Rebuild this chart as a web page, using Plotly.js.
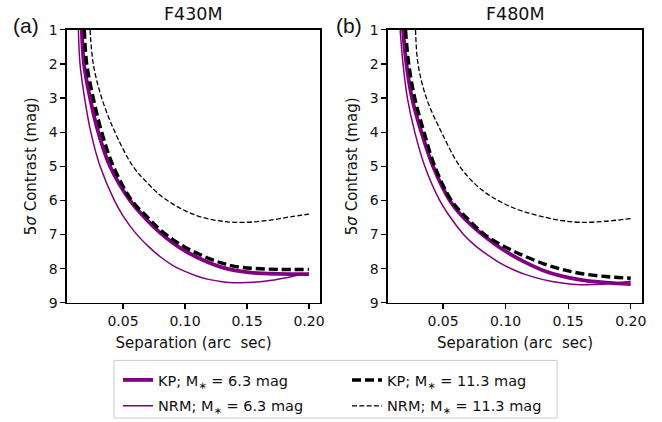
<!DOCTYPE html>
<html>
<head>
<meta charset="utf-8">
<script src="https://cdn.plot.ly/plotly-3.0.1.min.js"></script>
<style>html,body{margin:0;padding:0;background:#fff;}#chart{width:662px;height:422px;}</style>
</head>
<body>
<div id="chart"></div>
<script>
// ---- Panel (a) F430M ----
const a_kp6_x   = [0.0167, 0.0185, 0.0234, 0.030, 0.0395, 0.0556, 0.070, 0.080, 0.090, 0.100, 0.110, 0.120, 0.130, 0.140, 0.155, 0.175, 0.200];
const a_kp6_y   = [1, 2, 3, 4, 5, 6, 6.60, 6.95, 7.24, 7.48, 7.67, 7.83, 7.96, 8.05, 8.12, 8.15, 8.16];
const a_nrm6_x  = [0.0140, 0.0153, 0.019, 0.024, 0.0315, 0.043, 0.050, 0.060, 0.070, 0.080, 0.090, 0.100, 0.110, 0.120, 0.130, 0.140, 0.155, 0.170, 0.185, 0.200];
const a_nrm6_y  = [1, 2, 3, 4, 5, 6, 6.45, 6.95, 7.33, 7.65, 7.90, 8.08, 8.22, 8.32, 8.38, 8.41, 8.40, 8.34, 8.24, 8.13];
const a_kp11_x  = [0.0188, 0.0207, 0.026, 0.0328, 0.0422, 0.057, 0.070, 0.080, 0.090, 0.100, 0.110, 0.120, 0.130, 0.140, 0.155, 0.175, 0.200];
const a_kp11_y  = [1, 2, 3, 4, 5, 6, 6.50, 6.86, 7.14, 7.37, 7.55, 7.71, 7.84, 7.93, 7.99, 8.02, 8.02];
const a_nrm11_x = [0.0234, 0.026, 0.0328, 0.0435, 0.058, 0.070, 0.080, 0.090, 0.100, 0.110, 0.120, 0.130, 0.140, 0.155, 0.170, 0.185, 0.200];
const a_nrm11_y = [1, 2, 3, 4, 5, 5.50, 5.85, 6.10, 6.30, 6.45, 6.55, 6.61, 6.64, 6.63, 6.57, 6.48, 6.40];

// ---- Panel (b) F480M ----
const b_kp6_x   = [0.0180, 0.0207, 0.0252, 0.0327, 0.042, 0.0554, 0.065, 0.075, 0.085, 0.095, 0.105, 0.115, 0.130, 0.145, 0.160, 0.180, 0.200];
const b_kp6_y   = [1, 2, 3, 4, 5, 6, 6.45, 6.80, 7.10, 7.37, 7.60, 7.80, 8.05, 8.22, 8.33, 8.41, 8.45];
const b_nrm6_x  = [0.0157, 0.0180, 0.0215, 0.0274, 0.0354, 0.0473, 0.055, 0.066, 0.075, 0.085, 0.095, 0.105, 0.115, 0.130, 0.145, 0.160, 0.180, 0.200];
const b_nrm6_y  = [1, 2, 3, 4, 5, 6, 6.45, 6.98, 7.30, 7.58, 7.82, 8.01, 8.16, 8.32, 8.42, 8.47, 8.45, 8.37];
const b_kp11_x  = [0.0200, 0.0226, 0.0274, 0.0348, 0.0434, 0.0567, 0.070, 0.0833, 0.095, 0.105, 0.115, 0.130, 0.145, 0.160, 0.180, 0.200];
const b_kp11_y  = [1, 2, 3, 4, 5, 6, 6.55, 7.0, 7.27, 7.46, 7.63, 7.85, 8.02, 8.14, 8.23, 8.28];
const b_nrm11_x = [0.0280, 0.0300, 0.0367, 0.0487, 0.0633, 0.075, 0.085, 0.095, 0.105, 0.115, 0.130, 0.145, 0.160, 0.180, 0.200];
const b_nrm11_y = [1, 2, 3, 4, 5, 5.50, 5.80, 6.02, 6.20, 6.33, 6.48, 6.59, 6.64, 6.61, 6.53];

const panelTitles = ['F430M', 'F480M'];
const panelLabels = ['(a)', '(b)'];
const seriesNames = ['KP; M<sub>∗</sub> = 6.3 mag', 'NRM; M<sub>∗</sub> = 6.3 mag',
                     'KP; M<sub>∗</sub> = 11.3 mag', 'NRM; M<sub>∗</sub> = 11.3 mag'];
const yTicks = [1, 2, 3, 4, 5, 6, 7, 8, 9];
const xTicks = [0.05, 0.10, 0.15, 0.20];
const xTickText = ['0.05', '0.10', '0.15', '0.20'];

const styles = [
  {color: '#800080', width: 3.8, dash: 'solid', legend: 'legend'},
  {color: '#800080', width: 1.5, dash: 'solid', legend: 'legend'},
  {color: '#000000', width: 3.4, dash: '9px,4px', legend: 'legend2'},
  {color: '#000000', width: 1.3, dash: '5px,2.3px', legend: 'legend2'}
];

const panels = [
  {xs: [a_kp6_x, a_nrm6_x, a_kp11_x, a_nrm11_x], ys: [a_kp6_y, a_nrm6_y, a_kp11_y, a_nrm11_y], xa: 'x', ya: 'y'},
  {xs: [b_kp6_x, b_nrm6_x, b_kp11_x, b_nrm11_x], ys: [b_kp6_y, b_nrm6_y, b_kp11_y, b_nrm11_y], xa: 'x2', ya: 'y2'}
];

const traces = [];
panels.forEach((p, pi) => {
  for (let i = 0; i < 4; i++) {
    traces.push({
      type: 'scatter', mode: 'lines',
      x: p.xs[i], y: p.ys[i], xaxis: p.xa, yaxis: p.ya,
      name: seriesNames[i],
      legend: styles[i].legend,
      legendgroup: 'g' + i,
      showlegend: pi === 0,
      line: {color: styles[i].color, width: styles[i].width, dash: styles[i].dash, shape: 'spline', smoothing: 1},
      hoverinfo: 'skip'
    });
  }
});

const FONT = 'DejaVu Sans, sans-serif';
function xAxis(domain, range) {
  return {
    domain: domain, range: range, tickvals: xTicks, ticktext: xTickText,
    showgrid: false, zeroline: false, showline: true, mirror: true,
    linecolor: '#000', linewidth: 1.6, ticks: 'outside', ticklen: 5, tickwidth: 1.2, tickcolor: '#000',
    tickfont: {family: FONT, size: 14, color: '#111'},
    title: {text: 'Separation (arc\u00a0 sec)', font: {family: FONT, size: 15, color: '#111'}, standoff: 9}
  };
}
function yAxis(domain, anchor) {
  return {
    domain: domain, range: [9, 1], tickvals: yTicks, anchor: anchor,
    showgrid: false, zeroline: false, showline: true, mirror: true,
    linecolor: '#000', linewidth: 1.6, ticks: 'outside', ticklen: 5, tickwidth: 1.2, tickcolor: '#000',
    tickfont: {family: FONT, size: 14, color: '#111'},
    title: {text: '5<i>σ</i> Contrast (mag)', font: {family: FONT, size: 15, color: '#111'}, standoff: 8}
  };
}

const W = 662, H = 422;
const px = v => v / W, py = v => 1 - v / H;
const dA = [px(67), px(320)], dB = [px(388), px(642)];
const dY = [py(305), py(30)];

const layout = {
  width: W, height: H,
  margin: {l: 0, r: 0, t: 0, b: 0},
  paper_bgcolor: '#fff', plot_bgcolor: '#fff',
  font: {family: FONT, color: '#111'},
  showlegend: true,
  xaxis: Object.assign(xAxis(dA, [0.0048, 0.2089]), {anchor: 'y'}),
  yaxis: yAxis(dY, 'x'),
  xaxis2: Object.assign(xAxis(dB, [0.0060, 0.2090]), {anchor: 'y2'}),
  yaxis2: yAxis(dY, 'x2'),
  legend: {x: px(118), y: py(367), xanchor: 'left', yanchor: 'top', bgcolor: 'rgba(0,0,0,0)', borderwidth: 0,
           itemwidth: 30, traceorder: 'grouped', tracegroupgap: 4, font: {family: FONT, size: 14.5, color: '#111'}},
  legend2: {x: px(347), y: py(367), xanchor: 'left', yanchor: 'top', bgcolor: 'rgba(0,0,0,0)', borderwidth: 0,
           itemwidth: 30, traceorder: 'grouped', tracegroupgap: 4, font: {family: FONT, size: 14.5, color: '#111'}},
  shapes: [{type: 'rect', xref: 'paper', yref: 'paper', x0: px(114), x1: px(557), y0: py(421), y1: py(363),
            line: {color: '#cccccc', width: 1}, fillcolor: 'rgba(255,255,255,0.8)', layer: 'below'}],
  annotations: [
    {text: panelTitles[0], xref: 'paper', yref: 'paper', x: (dA[0] + dA[1]) / 2, y: py(14), xanchor: 'center', yanchor: 'middle', showarrow: false, font: {family: FONT, size: 17.5, color: '#111'}},
    {text: panelTitles[1], xref: 'paper', yref: 'paper', x: (dB[0] + dB[1]) / 2, y: py(14), xanchor: 'center', yanchor: 'middle', showarrow: false, font: {family: FONT, size: 17.5, color: '#111'}},
    {text: panelLabels[0], xref: 'paper', yref: 'paper', x: px(26), y: py(26), xanchor: 'center', yanchor: 'middle', showarrow: false, font: {family: 'Liberation Sans, Arial, sans-serif', size: 21, color: '#111'}},
    {text: panelLabels[1], xref: 'paper', yref: 'paper', x: px(349), y: py(26), xanchor: 'center', yanchor: 'middle', showarrow: false, font: {family: 'Liberation Sans, Arial, sans-serif', size: 21, color: '#111'}}
  ]
};

Plotly.newPlot('chart', traces, layout, {displayModeBar: false, staticPlot: true});
</script>
</body>
</html>
